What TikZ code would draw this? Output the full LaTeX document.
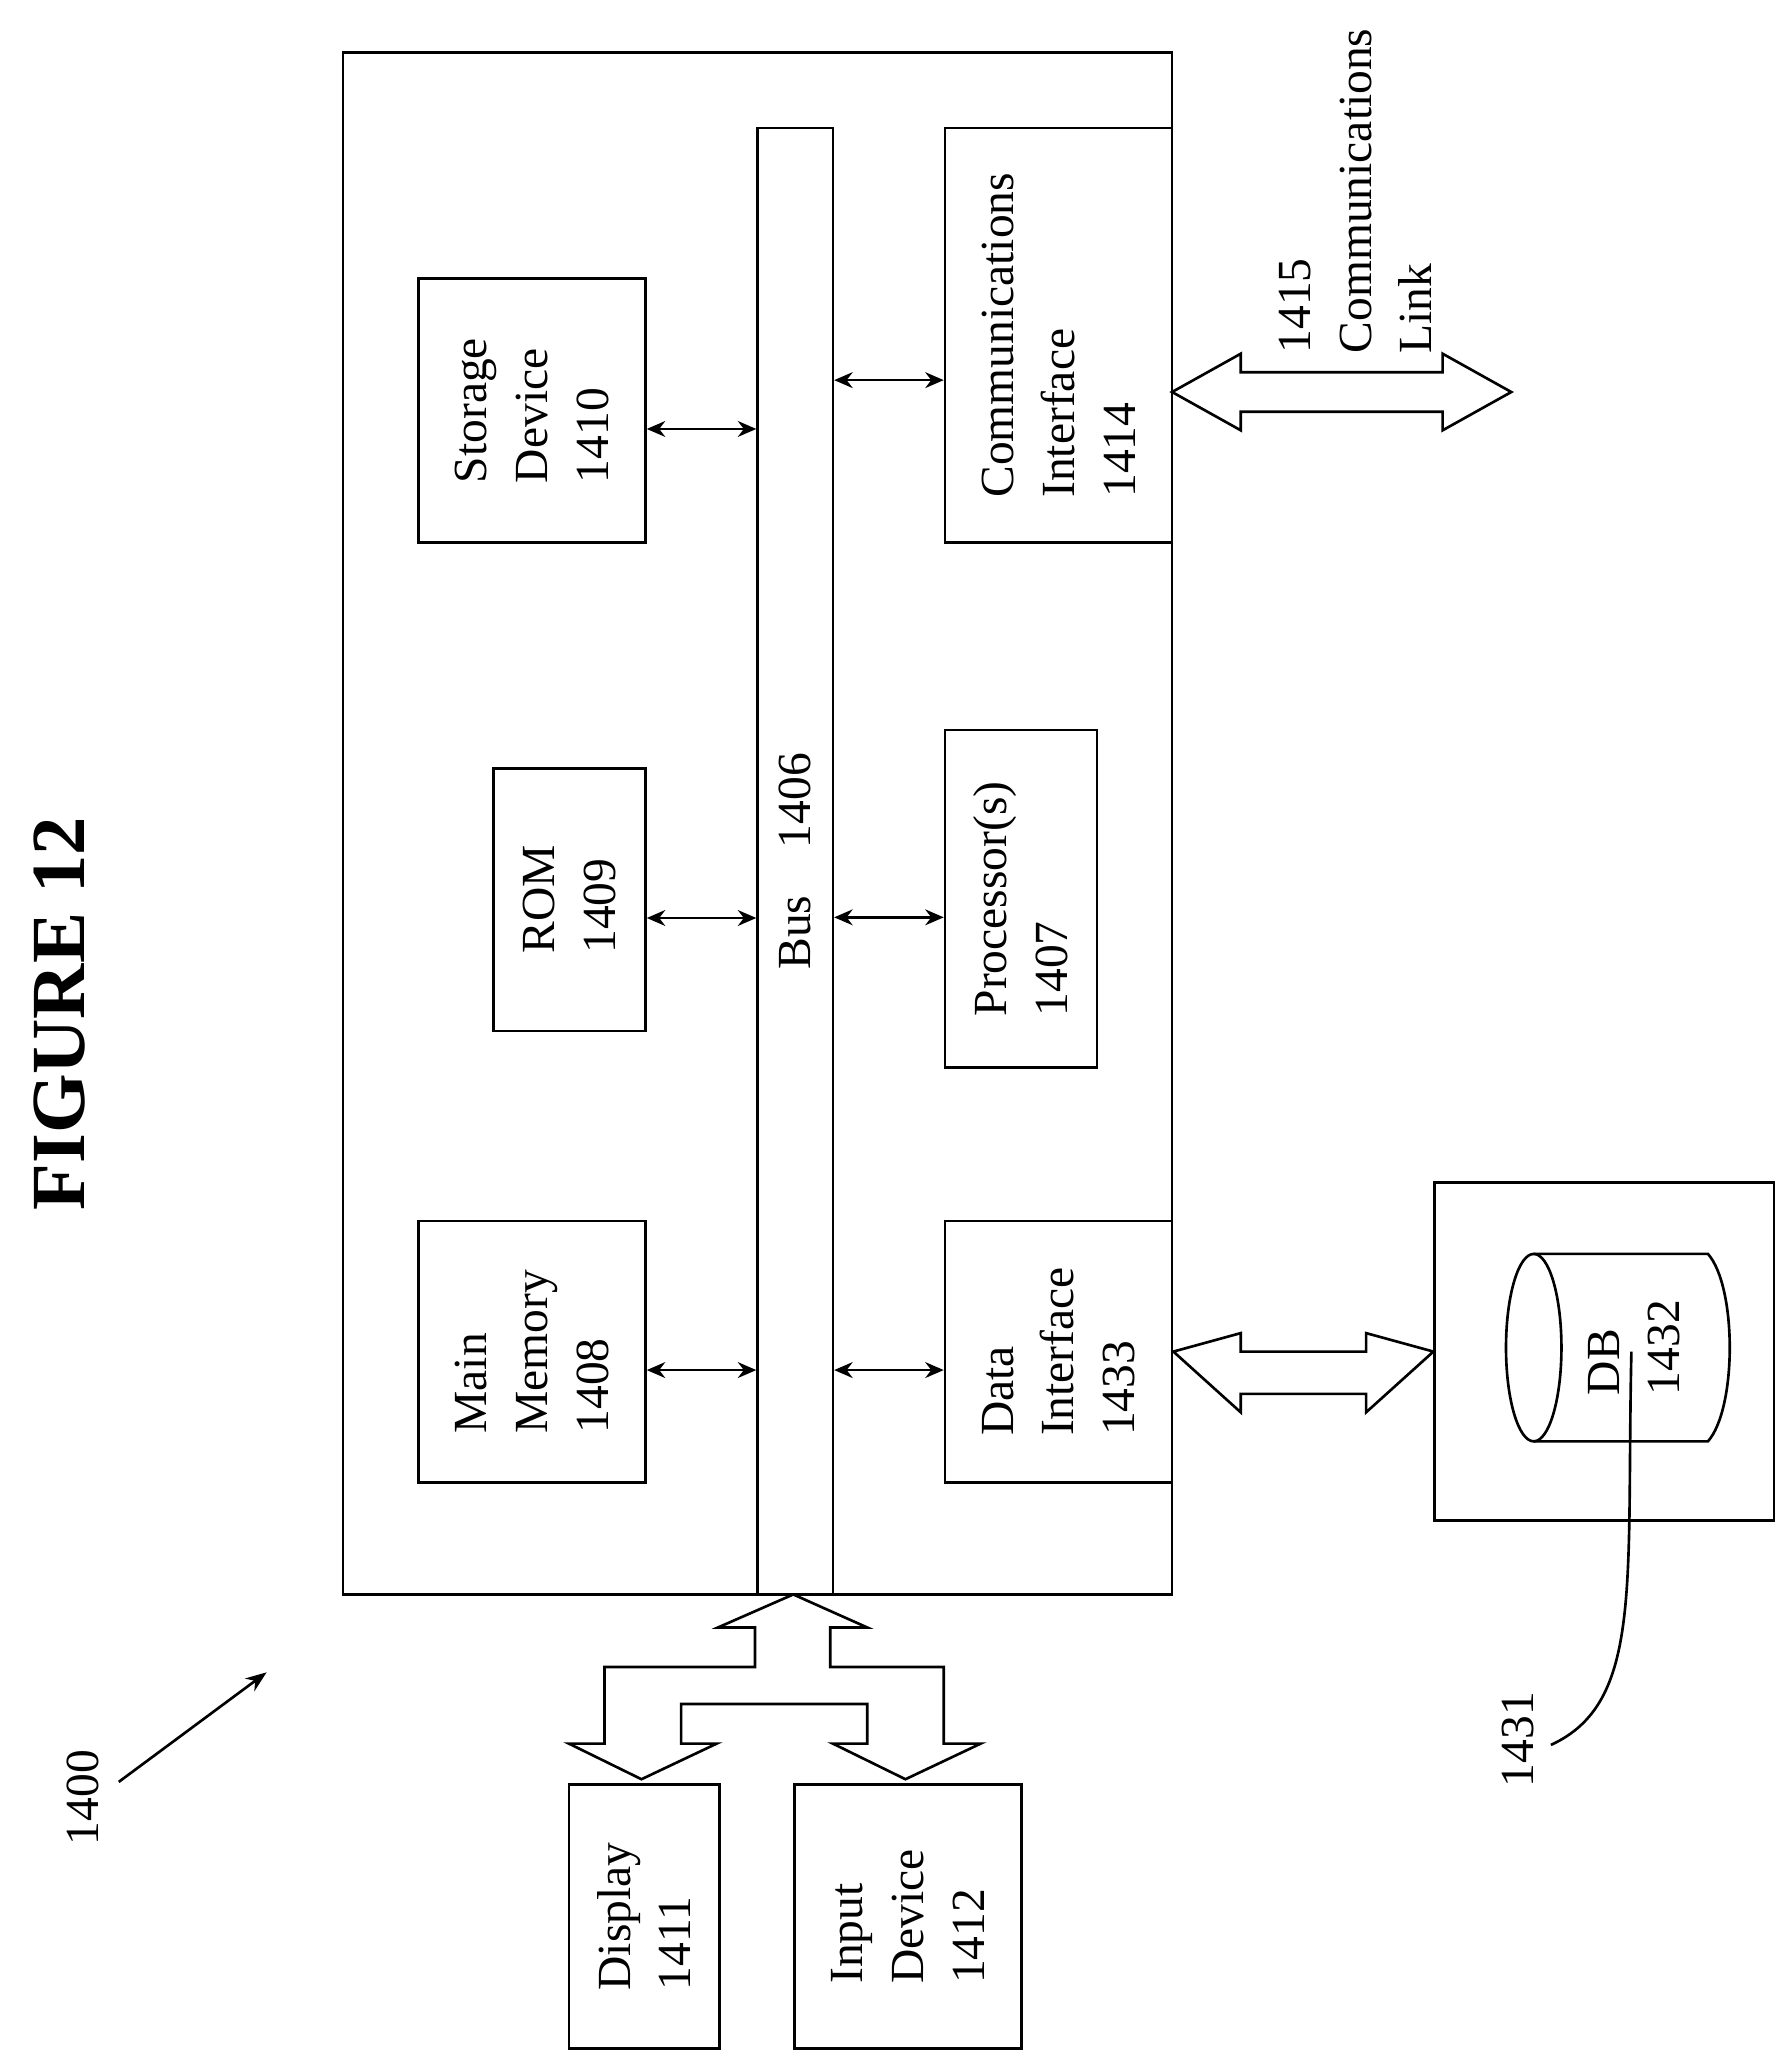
\documentclass[tikz,border=0pt]{standalone}
\usepackage{fontspec}
\setmainfont{Liberation Serif}
\usetikzlibrary{arrows.meta}
\begin{document}
\begin{tikzpicture}[x=1pt,y=-1pt,line width=2pt,
  box/.style={draw,rotate=90,align=left,font=\fontsize{36}{46}\selectfont,inner sep=0pt},
  lbl/.style={rotate=90,align=left,font=\fontsize{36}{46}\selectfont},
  dbl/.style={{Stealth[length=14pt,width=12pt]}-{Stealth[length=14pt,width=12pt]},line width=2pt},
  hollow/.style={draw,line width=2pt,line join=miter}]
\useasboundingbox (0,0) rectangle (1357,1563);
\node[rotate=90,font=\fontsize{58}{60}\selectfont\bfseries] (fig) at (45,768) {FIGURE 12};
\node[draw,minimum width=628pt,minimum height=1168pt,inner sep=0pt] (outer) at (574,624) {};
\node[box,minimum width=1111pt,minimum height=57pt] (bus) at (602.5,652.5) {Bus\quad 1406};
\node[box,minimum width=200pt,minimum height=172pt] (stor) at (403,311) {Storage\\Device\\1410};
\node[box,minimum width=199pt,minimum height=115pt] (rom) at (431.5,681.5) {ROM\\1409};
\node[box,minimum width=198pt,minimum height=172pt] (mem) at (403,1024) {Main\\Memory\\1408};
\node[box,minimum width=314pt,minimum height=172pt] (comm) at (802,254) {Communications\\Interface\\1414};
\node[box,minimum width=256pt,minimum height=115pt] (proc) at (773.5,681) {Processor(s)\\1407};
\node[box,minimum width=198pt,minimum height=172pt] (data) at (802,1024) {Data\\Interface\\1433};
\node[box,minimum width=256pt,minimum height=257pt] (dbbox) at (1215.5,1024) {};
\node[box,minimum width=200pt,minimum height=114pt] (disp) at (488,1452) {Display\\1411};
\node[box,minimum width=200pt,minimum height=172pt] (inp) at (688,1452) {Input\\Device\\1412};
% small arrows
\draw[dbl] ([yshift=-14pt]stor.south) -- ([yshift=-14pt]stor.south -| bus.north);
\draw[dbl] ([yshift=-14pt]rom.south) -- ([yshift=-14pt]rom.south -| bus.north);
\draw[dbl] ([yshift=-14pt]mem.south) -- ([yshift=-14pt]mem.south -| bus.north);
\draw[dbl] ([yshift=-34pt]comm.north -| bus.south) -- ([yshift=-34pt]comm.north);
\draw[dbl] ([yshift=-14pt]proc.north -| bus.south) -- ([yshift=-14pt]proc.north);
\draw[dbl] ([yshift=-14pt]data.north -| bus.south) -- ([yshift=-14pt]data.north);
% comm hollow arrow
\coordinate (cl) at (888,297);
\draw[hollow] (888,297) -- (940,268) -- (940,282) -- (1093,282) -- (1093,268) -- (1145,297)
  -- (1093,326) -- (1093,312) -- (940,312) -- (940,326) -- cycle;
\node[lbl,anchor=west] (link) at (1027,272) {1415\\Communications\\Link};
% data hollow arrow
\draw[hollow] (data.south) -- (940,1010) -- (940,1024) -- (1035,1024) -- (1035,1010) -- (dbbox.north)
  -- (1035,1070) -- (1035,1056) -- (940,1056) -- (940,1070) -- cycle;
% cylinder
\draw (1162,950) -- (1294,950) .. controls (1316,975) and (1316,1067) .. (1294,1092) -- (1162,1092);
\draw (1162,1021) ellipse [x radius=21pt,y radius=71pt];
\node[lbl] (db) at (1238,1021) {DB\\1432};
% bus fork
\draw[hollow] (601,1208) -- (657,1233) -- (629,1233) -- (629,1263) -- (715,1263) -- (715,1321)
  -- (743,1321) -- (686,1348) -- (631,1321) -- (657,1321) -- (657,1291) -- (516,1291)
  -- (516,1321) -- (543,1321) -- (486,1348) -- (431,1321) -- (458,1321) -- (458,1263)
  -- (572,1263) -- (572,1233) -- (544,1233) -- cycle;
% labels
\node[lbl] (l1400) at (63,1362) {1400};
\coordinate (a1400) at (202,1267);
\draw[-{Stealth[length=16pt,width=12pt]}] (90,1350) -- (a1400);
\node[lbl] (l1431) at (1150,1318) {1431};
\draw (1175,1322) .. controls (1245,1290) and (1232,1200) .. (dbbox.south -| 1236,0);
\end{tikzpicture}
\end{document}
